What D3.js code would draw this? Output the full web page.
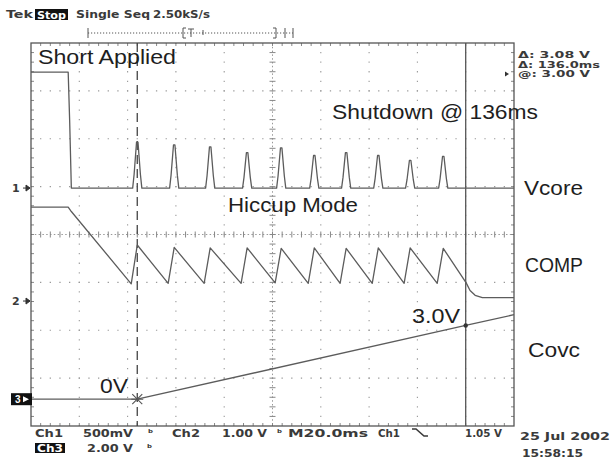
<!DOCTYPE html>
<html lang="en">
<head>
<meta charset="utf-8">
<title>Hiccup Mode - scope capture</title>
<script src="https://cdn.jsdelivr.net/npm/d3@7"></script>
<style>
  body { margin: 0; background: #fff; }
  svg { display: block; font-family: "Liberation Sans", Arial, sans-serif; }
  .trace { fill: none; stroke: #5c5c5c; stroke-width: 1.3; stroke-linejoin: round; }
  .note { font-size: 20px; fill: #1e1e1e; }
  .scope { font-family: "DejaVu Sans", sans-serif; font-size: 11px; font-weight: bold; fill: #3a3a3a; }
  .readout { font-family: "DejaVu Sans", sans-serif; font-size: 8px; font-weight: bold; fill: #3a3a3a; }
</style>
</head>
<body>
<script>
// time in ms, measured from the dashed cursor (20 ms/div, 10 div)
var timeDomain = [-44, 156];

// Ch1 Vcore, volts (500 mV/div)
var vcoreStart = [[-44, 1.21], [-28.6, 1.21], [-28.0, 0.71], [-27.3, 0]];
var pulseTimes = [0, 15.3, 30.2, 45.5, 59.6, 73.3, 86.5, 99.8, 113.0, 126.7];
var pulsePeaks = [0.48, 0.45, 0.43, 0.37, 0.42, 0.34, 0.37, 0.34, 0.29, 0.33];
var pulseShape = [[-1.9, 0], [-1.3, 0.3], [-0.3, 1], [0.3, 1], [1.3, 0.3], [1.9, 0]];
var vcoreEnd = [[156, 0]];

// Ch2 COMP, volts (1 V/div)
var compStart = [[-44, 1.96], [-28.6, 1.96], [-27.3, 1.87]];
var compTroughs = [0.36, 0.37, 0.37, 0.37, 0.38, 0.37, 0.37, 0.37, 0.37, 0.37];
var compPeaks = [1.17, 1.12, 1.11, 1.11, 1.10, 1.11, 1.10, 1.11, 1.11, 1.10];
var compEnd = [[136.2, 0.38], [137.8, 0.22], [139.9, 0.12], [142.9, 0.07], [156, 0.07]];

// Ch3 Covc, volts (2 V/div)
var covc = [[-44, 0], [0, 0], [136, 3.08], [156, 3.53]];

// cursors (ms)
var cursors = [0, 136];

var notes = [
  {text: "Short Applied", x: 38, y: 64, w: 138, size: 20},
  {text: "Shutdown @ 136ms", x: 332, y: 119, w: 206, size: 20},
  {text: "Vcore", x: 524, y: 195, w: 59, size: 20},
  {text: "Hiccup Mode", x: 228, y: 212, w: 130, size: 20},
  {text: "COMP", x: 525, y: 272, w: 58, size: 20},
  {text: "3.0V", x: 412, y: 323, w: 48, size: 18},
  {text: "Covc", x: 528, y: 357, w: 52, size: 20},
  {text: "0V", x: 100, y: 393, w: 28, size: 18}
];

var statusText = [
  {text: "Tek", x: 6, y: 18, w: 27},
  {text: "Single Seq", x: 76, y: 18, w: 74},
  {text: "2.50kS/s", x: 153, y: 18, w: 57},
  {text: "Ch1", x: 35, y: 437, w: 28},
  {text: "500mV", x: 83, y: 437, w: 50},
  {text: "Ch2", x: 172, y: 437, w: 28},
  {text: "1.00 V", x: 222, y: 437, w: 45},
  {text: "M20.0ms", x: 288, y: 437, w: 80},
  {text: "Ch1", x: 378, y: 437, w: 22},
  {text: "1.05 V", x: 465, y: 437, w: 37},
  {text: "2.00 V", x: 87, y: 452, w: 46},
  {text: "25 Jul 2002", x: 520, y: 440, w: 90},
  {text: "15:58:15", x: 522, y: 457, w: 61}
];
var readouts = [
  {text: "\u0394: 3.08 V", x: 518, y: 58, w: 72},
  {text: "\u0394: 136.0ms", x: 518, y: 67.5, w: 82},
  {text: "@: 3.00 V", x: 518, y: 77, w: 72}
];
var boxedText = [
  {text: "Stop", x: 35, y: 9, w: 33, h: 11},
  {text: "Ch3", x: 35, y: 443, w: 30, h: 10}
];
var couplingMarks = [148, 277, 147];
var couplingRows = [437, 437, 452];

var W = 612, H = 462;
var svg = d3.select("body").append("svg").attr("width", W).attr("height", H);

var xDiv = d3.scaleLinear().domain([0, 10]).range([31, 514]);
var yDiv = d3.scaleLinear().domain([-4, 4]).range([426, 43]);
var x = d3.scaleLinear().domain(timeDomain).range([31, 514]);

function chan(offset, voltsPerDiv) {
  return function (v) { return yDiv(offset + v / voltsPerDiv); };
}
var y1 = chan(0.97, 0.5), y2 = chan(-1.39, 1), y3 = chan(-3.44, 2);

// graticule
var g = svg.append("g");
var stepX = (xDiv(1) - xDiv(0)) / 5, stepY = (yDiv(0) - yDiv(1)) / 5;

g.selectAll(".vgrid").data([1, 2, 3, 4, 6, 7, 8, 9]).join("line")
    .attr("x1", d => xDiv(d)).attr("x2", d => xDiv(d))
    .attr("y1", yDiv(4)).attr("y2", yDiv(-4))
    .attr("stroke", "#999").attr("stroke-width", 1.1)
    .attr("stroke-dasharray", "1.3," + (stepY - 1.3)).attr("stroke-dashoffset", 0.65);

g.selectAll(".hgrid").data([-3, -2, -1, 1, 2, 3]).join("line")
    .attr("x1", xDiv(0)).attr("x2", xDiv(10))
    .attr("y1", d => yDiv(d)).attr("y2", d => yDiv(d))
    .attr("stroke", "#999").attr("stroke-width", 1.1)
    .attr("stroke-dasharray", "1.3," + (stepX - 1.3)).attr("stroke-dashoffset", 0.65);

// centre crosshair
g.append("line").attr("x1", xDiv(5)).attr("x2", xDiv(5)).attr("y1", yDiv(4)).attr("y2", yDiv(-4))
    .attr("stroke", "#999").attr("stroke-dasharray", "1.5,2.3");
g.append("line").attr("x1", xDiv(0)).attr("x2", xDiv(10)).attr("y1", yDiv(0)).attr("y2", yDiv(0))
    .attr("stroke", "#999").attr("stroke-dasharray", "1.5,2.3");

var minorX = d3.range(1, 50).map(i => i / 5), minorY = d3.range(1, 40).map(i => -4 + i / 5);
g.selectAll(".cxt").data(minorX).join("line")
    .attr("x1", d => xDiv(d)).attr("x2", d => xDiv(d))
    .attr("y1", yDiv(0) - 3).attr("y2", yDiv(0) + 3).attr("stroke", "#888");
g.selectAll(".cyt").data(minorY).join("line")
    .attr("x1", xDiv(5) - 3).attr("x2", xDiv(5) + 3)
    .attr("y1", d => yDiv(d)).attr("y2", d => yDiv(d)).attr("stroke", "#888");

// edge ticks
g.selectAll(".tt").data(minorX).join("line")
    .attr("x1", d => xDiv(d)).attr("x2", d => xDiv(d))
    .attr("y1", yDiv(4)).attr("y2", yDiv(4) + 3).attr("stroke", "#888");
g.selectAll(".bt").data(minorX).join("line")
    .attr("x1", d => xDiv(d)).attr("x2", d => xDiv(d))
    .attr("y1", yDiv(-4)).attr("y2", yDiv(-4) - 3).attr("stroke", "#888");
g.selectAll(".lt").data(minorY).join("line")
    .attr("x1", xDiv(0)).attr("x2", xDiv(0) + 3)
    .attr("y1", d => yDiv(d)).attr("y2", d => yDiv(d)).attr("stroke", "#888");
g.selectAll(".rt").data(minorY).join("line")
    .attr("x1", xDiv(10)).attr("x2", xDiv(10) - 3)
    .attr("y1", d => yDiv(d)).attr("y2", d => yDiv(d)).attr("stroke", "#888");

g.append("rect").attr("x", xDiv(0)).attr("y", yDiv(4))
    .attr("width", xDiv(10) - xDiv(0)).attr("height", yDiv(-4) - yDiv(4))
    .attr("fill", "none").attr("stroke", "#555").attr("stroke-width", 1.3);

// cursors
svg.append("line").attr("x1", x(cursors[0])).attr("x2", x(cursors[0]))
    .attr("y1", yDiv(4)).attr("y2", yDiv(-4))
    .attr("stroke", "#444").attr("stroke-width", 1.3).attr("stroke-dasharray", "9,5");
svg.append("line").attr("x1", x(cursors[1])).attr("x2", x(cursors[1]))
    .attr("y1", yDiv(4)).attr("y2", yDiv(-4))
    .attr("stroke", "#555").attr("stroke-width", 1.3);

// traces
var vcore = vcoreStart.slice();
pulseTimes.forEach(function (t, i) {
  pulseShape.forEach(function (s) { vcore.push([t + s[0], s[1] * pulsePeaks[i]]); });
});
vcore = vcore.concat(vcoreEnd);

var comp = compStart.slice();
pulseTimes.forEach(function (t, i) {
  comp.push([t - 2.5, compTroughs[i]]);
  comp.push([t, compPeaks[i]]);
});
comp = comp.concat(compEnd);

function trace(data, yScale) {
  svg.append("path").attr("class", "trace")
      .attr("d", d3.line().x(d => x(d[0])).y(d => yScale(d[1]))(data));
}
trace(vcore, y1);
trace(comp, y2);
trace(covc, y3);

// cursor readout markers on Covc
var cx0 = x(cursors[0]), cy0 = y3(covc[1][1]);
svg.append("path")
    .attr("d", "M" + (cx0 - 5) + "," + (cy0 - 5) + "L" + (cx0 + 5) + "," + (cy0 + 5) +
               "M" + (cx0 - 5) + "," + (cy0 + 5) + "L" + (cx0 + 5) + "," + (cy0 - 5) +
               "M" + (cx0 - 6) + "," + cy0 + "L" + (cx0 + 6) + "," + cy0)
    .attr("stroke", "#555").attr("stroke-width", 1.1);
svg.append("circle").attr("cx", x(cursors[1])).attr("cy", y3(covc[2][1])).attr("r", 2.2).attr("fill", "#333");

// channel ground markers
[["1", y1(0)], ["2", y2(0)]].forEach(function (m) {
  svg.append("text").attr("class", "scope").attr("x", 12).attr("y", m[1] + 4).text(m[0]);
  svg.append("path").attr("d", "M23," + m[1] + "H30M26," + (m[1] - 3) + "L30," + m[1] + "L26," + (m[1] + 3) + "Z")
      .attr("stroke", "#333").attr("fill", "#333");
});
svg.append("rect").attr("x", 11).attr("y", y3(0) - 6).attr("width", 21).attr("height", 12).attr("fill", "#111");
svg.append("text").attr("x", 15).attr("y", y3(0) + 4).attr("fill", "#fff")
    .attr("font-size", 10).attr("font-weight", "bold").text("3");
svg.append("path").attr("d", "M23," + (y3(0) - 3) + "L29," + y3(0) + "L23," + (y3(0) + 3) + "Z").attr("fill", "#fff");

// trigger level arrow on right edge
svg.append("path").attr("d", "M509,74L505,71.5V76.5Z").attr("fill", "#333");

// record bar at top
var bar = svg.append("g").attr("stroke", "#555");
bar.append("line").attr("x1", 88).attr("x2", 293).attr("y1", 33).attr("y2", 33)
    .attr("stroke-dasharray", "1.2,1.8");
[88, 293, 183, 276, 285].forEach(function (bx) {
  bar.append("line").attr("x1", bx).attr("x2", bx).attr("y1", 28).attr("y2", 38);
});
bar.append("path").attr("d", "M183,28H186M183,38H186M276,28H273M276,38H273").attr("fill", "none");
bar.append("path").attr("d", "M188,29H194M191,29V37M203,30V35").attr("fill", "none");

// annotations
svg.selectAll(".note").data(notes).join("text").attr("class", "note")
    .attr("x", d => d.x).attr("y", d => d.y).attr("font-size", d => d.size)
    .attr("textLength", d => d.w).attr("lengthAdjust", "spacingAndGlyphs")
    .text(d => d.text);

// scope status text
svg.selectAll(".st").data(statusText).join("text").attr("class", "scope")
    .attr("x", d => d.x).attr("y", d => d.y)
    .attr("textLength", d => d.w).attr("lengthAdjust", "spacingAndGlyphs")
    .text(d => d.text);

svg.selectAll(".ro").data(readouts).join("text").attr("class", "readout")
    .attr("x", d => d.x).attr("y", d => d.y)
    .attr("textLength", d => d.w).attr("lengthAdjust", "spacingAndGlyphs")
    .text(d => d.text);

boxedText.forEach(function (b) {
  svg.append("rect").attr("x", b.x).attr("y", b.y).attr("width", b.w).attr("height", b.h).attr("fill", "#111");
  svg.append("text").attr("class", "scope").attr("x", b.x + 2).attr("y", b.y + b.h - 1.5)
      .attr("textLength", b.w - 4).attr("lengthAdjust", "spacingAndGlyphs")
      .style("fill", "#fff").text(b.text);
});

// coupling symbols
couplingMarks.forEach(function (cx, i) {
  svg.append("text").attr("class", "scope").attr("x", cx).attr("y", couplingRows[i]).text("\u1D47");
});

// trigger slope symbol
svg.append("path").attr("d", "M412,429H416L424,436H428").attr("fill", "none")
    .attr("stroke", "#3a3a3a").attr("stroke-width", 1.6);
</script>
</body>
</html>
